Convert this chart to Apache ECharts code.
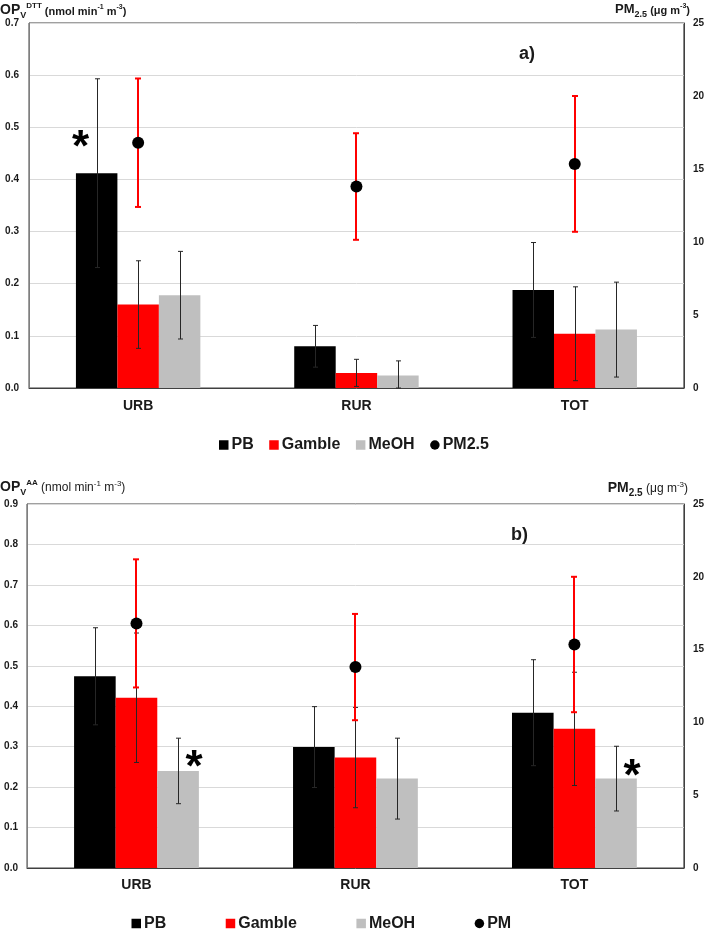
<!DOCTYPE html>
<html><head><meta charset="utf-8">
<script src="https://cdn.jsdelivr.net/npm/echarts@6/dist/echarts.min.js"></script>
<style>html,body{margin:0;padding:0;background:#fff}#c{width:707px;height:930px}</style>
</head><body><div id="c"></div>
<script>
// ---------- data ----------
const categories = ['URB', 'RUR', 'TOT'];

// panel a) OPv DTT (nmol min-1 m-3)
const dttPB = [0.412, 0.080, 0.188];
const dttPBErr = [0.181, 0.040, 0.091];
const dttGamble = [0.160, 0.029, 0.104];
const dttGambleErr = [0.084, 0.026, 0.090];
const dttMeOH = [0.178, 0.024, 0.112];
const dttMeOHErr = [0.084, 0.028, 0.091];

// panel b) OPv AA (nmol min-1 m-3)
const aaPB = [0.474, 0.299, 0.384];
const aaPBErr = [0.120, 0.100, 0.131];
const aaGamble = [0.421, 0.273, 0.344];
const aaGambleErr = [0.160, 0.124, 0.140];
const aaMeOH = [0.240, 0.221, 0.221];
const aaMeOHErr = [0.081, 0.100, 0.080];

// PM2.5 (ug m-3), right axis, same in both panels
const pm25 = [16.8, 13.8, 15.35];
const pm25Err = [4.4, 3.65, 4.65];

// significance asterisks: [categoryIndex, barIndex(0 PB,1 Gamble,2 MeOH), value]
const starsDTT = [[0, 0, 0.478]];
const starsAA = [[0, 2, 0.272], [2, 2, 0.250]];

// axis ranges
const dttMax = 0.7, aaMax = 0.9, pmMax = 25;

// ---------- helpers ----------
const FONT = '"Liberation Sans", Arial, Helvetica, sans-serif';
const BAR_FRAC = 0.19;
const C_PB = '#000000', C_G = '#ff0000', C_M = '#bfbfbf';

function errData(vals, errs) { return vals.map((v, i) => [i, v, errs[i]]); }

function errRender(barIdx, color, width, cap) {
  return function (params, api) {
    const cat = api.value(0), v = api.value(1), e = api.value(2);
    const band = api.size([1, 0])[0];
    const dx = (barIdx - 1) * band * BAR_FRAC;
    const top = api.coord([cat, v + e]);
    const bot = api.coord([cat, Math.max(0, v - e)]);
    const x = Math.round(top[0] + dx) + (width % 2 ? 0.5 : 0);
    const st = { stroke: color, lineWidth: width };
    return {
      type: 'group', children: [
        { type: 'line', shape: { x1: x, y1: top[1], x2: x, y2: bot[1] }, style: st },
        { type: 'line', shape: { x1: x - cap, y1: top[1], x2: x + cap, y2: top[1] }, style: st },
        { type: 'line', shape: { x1: x - cap, y1: bot[1], x2: x + cap, y2: bot[1] }, style: st }
      ]
    };
  };
}

function starRender(dxPx) {
  return function (params, api) {
    const cat = api.value(0), bi = api.value(1), v = api.value(2);
    const band = api.size([1, 0])[0];
    const p = api.coord([cat, v]);
    const x = p[0] + (bi - 1) * band * BAR_FRAC + dxPx;
    return {
      type: 'text', x: x, y: p[1] + 10.5,
      style: { text: '*', fontSize: 44, fontWeight: 'bold', fontFamily: FONT, fill: '#000', align: 'center', verticalAlign: 'middle' }
    };
  };
}

function barSeries(name, data, color, xi, yi) {
  return {
    type: 'bar', name: name, data: data, xAxisIndex: xi, yAxisIndex: yi,
    barWidth: (BAR_FRAC * 100) + '%', barGap: '0%', itemStyle: { color: color }, z: 2,
    emphasis: { disabled: true }, animation: false
  };
}

function errSeries(vals, errs, barIdx, xi, yi, color, width, cap, z) {
  return {
    type: 'custom', data: errData(vals, errs), xAxisIndex: xi, yAxisIndex: yi,
    renderItem: errRender(barIdx, color, width, cap), z: z, silent: true, animation: false
  };
}

function pmSeries(name, xi, yi) {
  return {
    type: 'scatter', name: name, data: pm25, xAxisIndex: xi, yAxisIndex: yi,
    symbol: 'circle', symbolSize: 12, itemStyle: { color: '#000', opacity: 1 }, z: 6, animation: false,
    emphasis: { disabled: true }
  };
}

const labelL = { fontWeight: 'bold', fontSize: 10, color: '#1a1a1a', fontFamily: FONT };

function leftAxis(grid, max, margin) {
  return {
    gridIndex: grid, type: 'value', min: 0, max: max, interval: 0.1, position: 'left',
    axisLine: { show: true, lineStyle: { color: '#7f7f7f', width: 1 } }, axisTick: { show: false },
    splitLine: { show: true, lineStyle: { color: '#d9d9d9', width: 1 } },
    axisLabel: Object.assign({ formatter: v => v.toFixed(1), margin: margin }, labelL)
  };
}
function rightAxis(grid) {
  return {
    gridIndex: grid, type: 'value', min: 0, max: pmMax, interval: 5, position: 'right',
    axisLine: { show: true, lineStyle: { color: '#404040', width: 1 } }, axisTick: { show: false },
    splitLine: { show: false },
    axisLabel: Object.assign({ margin: 9 }, labelL)
  };
}
function catAxis(grid, margin) {
  return {
    gridIndex: grid, type: 'category', data: categories,
    axisLine: { show: true, lineStyle: { color: '#404040', width: 1 } }, axisTick: { show: false },
    axisLabel: { fontWeight: 'bold', fontSize: 14, color: '#1a1a1a', fontFamily: FONT, margin: margin }
  };
}

function tok(size, weight, padBottom) {
  return { fontSize: size, fontWeight: weight, fontFamily: FONT, fill: '#1a1a1a', verticalAlign: 'bottom', padding: [0, 0, padBottom, 0] };
}
const richA = { m: tok(14, 'bold', 3), sub: tok(9, 'bold', 0), sup: tok(8, 'bold', 10), u: tok(11, 'bold', 3), us: tok(7, 'bold', 9) };
const richAR = { m: tok(13, 'bold', 3), sub: tok(9, 'bold', 0), u: tok(11, 'bold', 3), us: tok(7, 'bold', 9) };
const richB = { m: tok(14, 'bold', 3), sub: tok(9, 'bold', 0), sup: tok(8, 'bold', 10), u: tok(12, 'normal', 3), us: tok(8, 'normal', 9) };
const richBR = { m: tok(14, 'bold', 3), sub: tok(10, 'bold', 0), u: tok(12, 'normal', 3), us: tok(8, 'normal', 9) };

const legendText = { fontWeight: 'bold', fontSize: 16, color: '#1a1a1a', fontFamily: FONT, padding: [0, 0, 0, -2] };

const option = {
  backgroundColor: '#ffffff',
  animation: false,
  grid: [
    { left: 29, right: 21, top: 23, height: 365, show: true, borderColor: '#404040', borderWidth: 1, containLabel: false },
    { left: 27, right: 23, top: 504, height: 364, show: true, borderColor: '#404040', borderWidth: 1, containLabel: false }
  ],
  xAxis: [catAxis(0, 11), catAxis(1, 10)],
  yAxis: [leftAxis(0, dttMax, 10), rightAxis(0), leftAxis(1, aaMax, 9), rightAxis(1)],
  legend: [
    {
      data: [{ name: 'PB', icon: 'rect' }, { name: 'Gamble', icon: 'rect' }, { name: 'MeOH', icon: 'rect' }, { name: 'PM2.5', icon: 'circle' }],
      left: 219, top: 437, padding: 0, itemWidth: 9.5, itemHeight: 9.5, itemGap: 15.5, selectedMode: false,
      textStyle: legendText
    },
    {
      data: [{ name: 'PB', icon: 'rect' }, { name: 'Gamble', icon: 'rect' }, { name: 'MeOH', icon: 'rect' }, { name: 'PM', icon: 'circle' }],
      left: 131.5, top: 915.5, padding: 0, itemWidth: 9.5, itemHeight: 9.5, itemGap: 59.5, selectedMode: false,
      textStyle: legendText
    }
  ],
  graphic: [
    { type: 'text', left: 0, top: 2, style: { text: '{m|OP}{sub|V}{sup|DTT}{u| (nmol min}{us|-1}{u| m}{us|-3}{u|)}', rich: richA } },
    { type: 'text', right: 17, top: 3, style: { text: '{m|PM}{sub|2.5}{u| (μg m}{us|-3}{u|)}', rich: richAR } },
    { type: 'text', left: 519, top: 45, style: { text: 'a)', fontSize: 18, fontWeight: 'bold', fontFamily: FONT, fill: '#1a1a1a' } },
    { type: 'text', left: 0, top: 479, style: { text: '{m|OP}{sub|V}{sup|AA}{u| (nmol min}{us|-1}{u| m}{us|-3}{u|)}', rich: richB } },
    { type: 'text', right: 19, top: 481, style: { text: '{m|PM}{sub|2.5}{u| (μg m}{us|-3}{u|)}', rich: richBR } },
    { type: 'text', left: 511, top: 526, style: { text: 'b)', fontSize: 18, fontWeight: 'bold', fontFamily: FONT, fill: '#1a1a1a' } }
  ],
  series: [
    // panel a
    barSeries('PB', dttPB, C_PB, 0, 0),
    barSeries('Gamble', dttGamble, C_G, 0, 0),
    barSeries('MeOH', dttMeOH, C_M, 0, 0),
    errSeries(dttPB, dttPBErr, 0, 0, 0, '#262626', 1, 2.5, 3),
    errSeries(dttGamble, dttGambleErr, 1, 0, 0, '#262626', 1, 2.5, 3),
    errSeries(dttMeOH, dttMeOHErr, 2, 0, 0, '#262626', 1, 2.5, 3),
    errSeries(pm25, pm25Err, 1, 0, 1, '#ff0000', 2, 3, 4),
    pmSeries('PM2.5', 0, 1),
    { type: 'custom', data: starsDTT, xAxisIndex: 0, yAxisIndex: 0, renderItem: starRender(-16), z: 7, silent: true },
    // panel b
    barSeries('PB', aaPB, C_PB, 1, 2),
    barSeries('Gamble', aaGamble, C_G, 1, 2),
    barSeries('MeOH', aaMeOH, C_M, 1, 2),
    errSeries(aaPB, aaPBErr, 0, 1, 2, '#262626', 1, 2.5, 3),
    errSeries(aaGamble, aaGambleErr, 1, 1, 2, '#262626', 1, 2.5, 3),
    errSeries(aaMeOH, aaMeOHErr, 2, 1, 2, '#262626', 1, 2.5, 3),
    errSeries(pm25, pm25Err, 1, 1, 3, '#ff0000', 2, 3, 4),
    pmSeries('PM', 1, 3),
    { type: 'custom', data: starsAA, xAxisIndex: 1, yAxisIndex: 2, renderItem: starRender(16), z: 7, silent: true }
  ]
};

const chart = echarts.init(document.getElementById('c'), null, { renderer: 'canvas' });
chart.setOption(option);
</script>
</body></html>
